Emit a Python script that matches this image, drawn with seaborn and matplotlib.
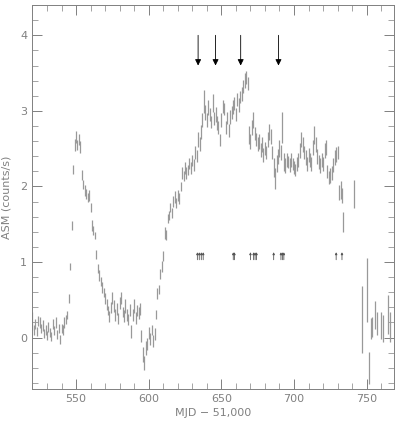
import matplotlib
matplotlib.use("Agg")
import matplotlib.pyplot as plt
import seaborn as sns
import pandas as pd
from matplotlib.ticker import MultipleLocator

# ASM one-day averages (MJD - 51,000)
mjd = [520, 521, 522, 523, 524, 525, 526, 527, 528, 529, 530, 531, 532, 533,
       534, 535, 536, 537, 538, 539, 540, 541, 542, 543, 544, 545, 546, 547,
       548, 549, 550, 551, 552, 553, 554, 555, 556, 557, 558, 559, 560, 561,
       562, 563, 564, 565, 566, 567, 568, 569, 570, 571, 572, 573, 574, 575,
       576, 577, 578, 579, 580, 581, 582, 583, 584, 585, 586, 587, 588, 589,
       590, 591, 592, 593, 594, 595, 596, 597, 598, 599, 600, 601, 602, 603,
       604, 605, 606, 607, 608, 609, 610, 611, 612, 613, 614, 615, 616, 617,
       618, 619, 620, 621, 622, 623, 624, 625, 626, 627, 628, 629, 630, 631,
       632, 633, 634, 635, 636, 637, 638, 639, 640, 641, 642, 643, 644, 645,
       646, 647, 648, 649, 650, 651, 652, 653, 654, 655, 656, 657, 658, 659,
       660, 661, 662, 663, 664, 665, 666, 667, 668, 669, 670, 671, 672, 673,
       674, 675, 676, 677, 678, 679, 680, 681, 682, 683, 684, 685, 686, 687,
       688, 689, 690, 691, 692, 693, 694, 695, 696, 697, 698, 699, 700, 701,
       702, 703, 704, 705, 706, 707, 708, 709, 710, 711, 712, 713, 714, 715,
       716, 717, 718, 719, 720, 721, 722, 723, 724, 725, 726, 727, 728, 729,
       730, 731, 732, 733, 734, 741, 747, 750, 751.6, 753.2, 754, 755.5,
       757.3, 759.9, 761.5, 764.7, 765.8]
rate = [0.22, 0.10, 0.18, 0.08, 0.22, 0.20, 0.12, 0.16, 0.05, 0.10, 0.03, 0.14,
        0.07, 0.02, 0.18, 0.10, 0.20, 0.04, 0.12, -0.02, 0.12, 0.10, 0.20, 0.24,
        0.30, 0.52, 0.94, 1.48, 2.23, 2.55, 2.65, 2.55, 2.62, 2.52, 2.15, 2.02,
        1.95, 1.90, 1.85, 1.88, 1.72, 1.48, 1.42, 1.35, 1.10, 0.92, 0.82, 0.74,
        0.66, 0.60, 0.52, 0.44, 0.36, 0.28, 0.40, 0.52, 0.42, 0.30, 0.38, 0.25,
        0.46, 0.52, 0.34, 0.28, 0.42, 0.30, 0.24, 0.36, 0.08, 0.30, 0.42, 0.26,
        0.36, 0.32, 0.38, 0.02, -0.22, -0.34, -0.14, -0.08, 0.06, -0.02, 0.10,
        -0.04, 0.05, 0.30, 0.58, 0.64, 0.84, 0.94, 1.08, 1.38, 1.36, 1.58, 1.62,
        1.72, 1.65, 1.80, 1.86, 1.78, 1.88, 1.84, 2.00, 2.18, 2.14, 2.25, 2.18,
        2.22, 2.30, 2.24, 2.34, 2.28, 2.45, 2.40, 2.62, 2.56, 2.72, 2.88, 3.12,
        2.98, 2.88, 3.05, 2.95, 2.85, 3.10, 2.90, 2.95, 2.84, 2.78, 2.62, 2.88,
        3.06, 3.02, 2.78, 2.90, 2.74, 2.92, 2.98, 3.05, 3.10, 2.95, 3.15, 3.08,
        3.18, 3.22, 3.32, 3.40, 3.44, 3.36, 2.68, 2.60, 2.78, 2.88, 2.70, 2.62,
        2.56, 2.60, 2.48, 2.55, 2.42, 2.50, 2.45, 2.62, 2.72, 2.66, 2.45, 2.25,
        2.10, 2.30, 2.40, 2.50, 2.45, 2.78, 2.32, 2.28, 2.35, 2.32, 2.28, 2.35,
        2.30, 2.25, 2.22, 2.30, 2.35, 2.48, 2.62, 2.55, 2.45, 2.38, 2.30, 2.42,
        2.35, 2.30, 2.52, 2.68, 2.55, 2.40, 2.32, 2.28, 2.35, 2.30, 2.48, 2.52,
        2.20, 2.12, 2.15, 2.18, 2.28, 2.38, 2.42, 2.45, 1.92, 1.95, 1.88, 1.53,
        1.90, 0.24, 0.63, -0.40, 0.12, 0.14, 0.30, 0.19, 0.16, 0.12, 0.31, 0.14]
err = [0.12, 0.07, 0.06, 0.06, 0.06, 0.07, 0.06, 0.07, 0.06, 0.07, 0.06, 0.07,
       0.06, 0.06, 0.07, 0.06, 0.07, 0.06, 0.06, 0.06, 0.06, 0.07, 0.07, 0.06,
       0.05, 0.06, 0.05, 0.06, 0.06, 0.08, 0.08, 0.07, 0.07, 0.08, 0.07, 0.06,
       0.07, 0.07, 0.06, 0.07, 0.06, 0.07, 0.06, 0.05, 0.06, 0.06, 0.07, 0.06,
       0.07, 0.06, 0.07, 0.07, 0.06, 0.07, 0.07, 0.08, 0.08, 0.08, 0.08, 0.07,
       0.08, 0.08, 0.07, 0.08, 0.09, 0.08, 0.07, 0.08, 0.09, 0.08, 0.09, 0.08,
       0.07, 0.08, 0.08, 0.08, 0.10, 0.09, 0.09, 0.08, 0.08, 0.08, 0.07, 0.08,
       0.08, 0.06, 0.07, 0.06, 0.07, 0.07, 0.06, 0.08, 0.07, 0.06, 0.06, 0.06,
       0.07, 0.07, 0.08, 0.07, 0.07, 0.07, 0.06, 0.08, 0.07, 0.08, 0.08, 0.07,
       0.07, 0.08, 0.07, 0.08, 0.09, 0.08, 0.10, 0.09, 0.09, 0.09, 0.15, 0.10,
       0.09, 0.10, 0.09, 0.08, 0.12, 0.09, 0.10, 0.09, 0.08, 0.08, 0.09, 0.09,
       0.08, 0.09, 0.08, 0.08, 0.09, 0.09, 0.09, 0.09, 0.09, 0.09, 0.09, 0.08,
       0.09, 0.09, 0.10, 0.09, 0.09, 0.12, 0.10, 0.10, 0.10, 0.09, 0.09, 0.09,
       0.10, 0.09, 0.10, 0.09, 0.09, 0.09, 0.10, 0.11, 0.10, 0.09, 0.12, 0.14,
       0.11, 0.10, 0.11, 0.10, 0.20, 0.12, 0.10, 0.09, 0.08, 0.09, 0.09, 0.08,
       0.09, 0.08, 0.09, 0.09, 0.10, 0.10, 0.10, 0.09, 0.10, 0.09, 0.09, 0.09,
       0.09, 0.10, 0.12, 0.10, 0.10, 0.09, 0.10, 0.09, 0.09, 0.10, 0.10, 0.09,
       0.09, 0.10, 0.09, 0.09, 0.10, 0.10, 0.09, 0.10, 0.12, 0.10, 0.13, 0.19,
       0.44, 0.42, 0.21, 0.14, 0.13, 0.19, 0.15, 0.18, 0.18, 0.26, 0.20]

# big arrows (top) and small up-arrows near 1 c/s
big_arrows = [634, 646, 663.3, 689.3]
small_arrows = [633.5, 634.8, 636.2, 637.5, 658.2, 659.0, 670.0, 672.2, 673.2,
                674.2, 686.0, 691.0, 692.0, 693.0, 729.0, 733.0]

df = pd.DataFrame({"mjd": mjd, "rate": rate, "err": err})

sns.set_style("ticks")
plt.rcParams["font.family"] = ["DejaVu Sans"]
grey = "#808080"

fig = plt.figure(figsize=(4.0, 4.23), dpi=100)
ax = fig.add_axes([0.08, 0.0804, 0.905, 0.9076])

ax.errorbar(df["mjd"], df["rate"], yerr=df["err"], fmt="none",
            ecolor="#999999", elinewidth=0.9, capsize=0)

for x in big_arrows:
    ax.annotate("", xy=(x, 3.6), xytext=(x, 4.0),
                arrowprops=dict(arrowstyle="-|>", color="black", lw=0.6,
                                mutation_scale=9, shrinkA=0, shrinkB=0))
for x in small_arrows:
    ax.annotate("", xy=(x, 1.13), xytext=(x, 1.03),
                arrowprops=dict(arrowstyle="-|>", color="#555555", lw=0.6,
                                mutation_scale=3, shrinkA=0, shrinkB=0))

ax.set_xlim(519.7, 768.8)
ax.set_ylim(-0.68, 4.4)
ax.xaxis.set_major_locator(MultipleLocator(50))
ax.xaxis.set_minor_locator(MultipleLocator(10))
ax.yaxis.set_major_locator(MultipleLocator(1))
ax.yaxis.set_minor_locator(MultipleLocator(0.2))
ax.tick_params(which="both", direction="in", top=True, right=True,
               color=grey, labelcolor=grey, labelsize=8)
ax.tick_params(which="major", length=7, width=0.7)
ax.tick_params(which="minor", length=4, width=0.5)
for s in ax.spines.values():
    s.set_color(grey)
    s.set_linewidth(0.7)

ax.set_xlabel("MJD \u2212 51,000", color=grey, fontsize=8, labelpad=3)
ax.set_ylabel("ASM (counts/s)", color=grey, fontsize=8, labelpad=6)

fig.savefig("out.png", dpi=100)
